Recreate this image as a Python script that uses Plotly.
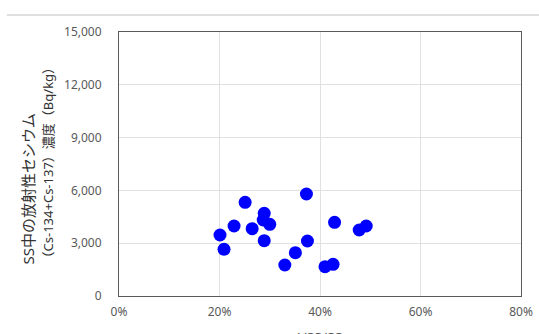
import plotly.graph_objects as go

vss_ratio = [0.251, 0.373, 0.201, 0.209, 0.229, 0.265, 0.289, 0.287, 0.300, 0.289,
             0.330, 0.351, 0.375, 0.429, 0.410, 0.426, 0.478, 0.492]
cesium = [5324, 5795, 3466, 2653, 3977, 3824, 4699, 4318, 4074, 3142,
          1761, 2460, 3125, 4188, 1665, 1801, 3750, 3977]

y_ticks = [0, 3000, 6000, 9000, 12000, 15000]
x_ticks = [0, 0.2, 0.4, 0.6, 0.8]

font = "Noto Sans, Noto Sans CJK JP, sans-serif"

fig = go.Figure()
fig.add_trace(go.Scatter(
    x=vss_ratio, y=cesium, mode="markers",
    marker=dict(size=13, color="#0000ff", line=dict(width=0)),
    showlegend=False, hoverinfo="skip"))

axis_common = dict(showline=True, linecolor="#595959", linewidth=1, mirror=True,
                   showgrid=True, gridcolor="#e0e0e0", gridwidth=1, zeroline=False,
                   automargin=False,
                   ticks="", tickfont=dict(family=font, size=12, color="#595959"))

fig.update_xaxes(range=[0, 0.8], tickvals=x_ticks, tickformat=".0%", ticklabelstandoff=5,
                 **axis_common)
fig.update_yaxes(range=[0, 15000], tickvals=y_ticks, tickformat=",", ticklabelstandoff=14,
                 **axis_common)

fig.update_layout(
    width=539, height=334,
    margin=dict(l=119, r=18, t=32, b=38),
    paper_bgcolor="white", plot_bgcolor="white",
    font=dict(family=font),
    shapes=[dict(type="line", xref="paper", yref="paper",
                 x0=-0.2786, x1=1.05, y0=1.0644, y1=1.0644,
                 line=dict(color="#d4d4d4", width=1.5))],
    annotations=[
        dict(text="SS中の放射性セシウム<br><span style='font-size:13px'>（Cs-134+Cs-137）濃度（Bq/kg）</span>",
             xref="paper", yref="paper", x=-0.148, y=0.11, xanchor="right", yanchor="bottom",
             textangle=-90, align="left", showarrow=False,
             font=dict(family=font, size=15, color="#333333")),
        dict(text="VSS/SS", xref="paper", yref="paper", x=0.5, y=-0.114,
             xanchor="center", yanchor="top", showarrow=False,
             font=dict(family=font, size=14, color="#595959")),
    ],
)

fig.write_html("out.html", config={"displayModeBar": False},
               post_script="document.body.style.margin='0';")
